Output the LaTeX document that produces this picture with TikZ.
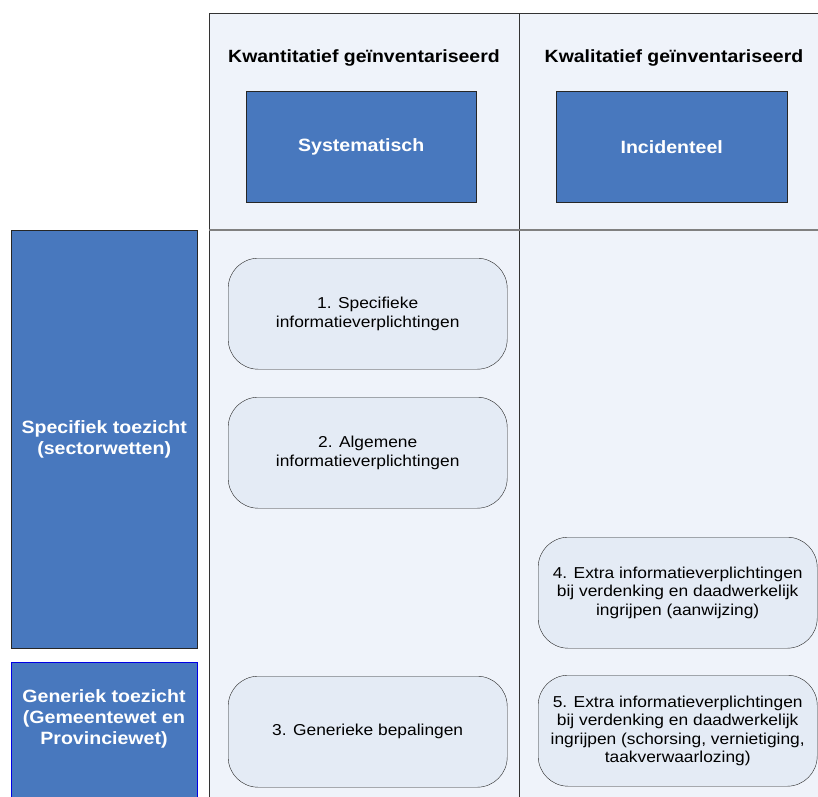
\documentclass[tikz,border=0pt]{standalone}
\usepackage{fontspec}
\setmainfont{Liberation Sans}[FakeStretch=1.1]
\definecolor{bluefill}{HTML}{4878BE}
\definecolor{gridbg}{HTML}{EFF3FA}
\definecolor{roundbg}{HTML}{E4EBF5}
\definecolor{gridline}{HTML}{333333}
\definecolor{hline}{HTML}{808080}
\begin{document}
\begin{tikzpicture}[x=1pt,y=-1pt,
  bluebox/.style={draw=black!85,fill=bluefill,text=white,font=\fontsize{17.8}{21}\selectfont\bfseries,align=center,inner sep=0pt,anchor=north west},
  roundbox/.style={draw=black!85,fill=roundbg,rounded corners=30pt,font=\fontsize{15.8}{18.5}\selectfont,align=center,inner sep=0pt,anchor=north west,minimum width=279pt,minimum height=111pt},
  header/.style={font=\fontsize{17.7}{20}\selectfont\bfseries,inner sep=0pt}]
\useasboundingbox (0,0) rectangle (818,796);
% grid background
\fill[gridbg] (209,13) rectangle (830,800);
\draw[gridline,line width=0.8pt] (830,13) -- (209,13) -- (209,800);
\draw[gridline,line width=0.8pt] (519,13) -- (519,800);
\draw[hline,line width=1.4pt] (209,230) -- (830,230);
% headers
\node[header] (h1) at (364,58) {Kwantitatief geïnventariseerd};
\node[header] (h2) at (674,58) {Kwalitatief geïnventariseerd};
\node[bluebox,minimum width=230pt,minimum height=111pt] (sys) at (246,91) {Systematisch};
\node[bluebox,minimum width=231pt,minimum height=111pt] (inc) at (556,91) {Incidenteel};
% left boxes
\node[bluebox,minimum width=186pt,minimum height=418pt] (spec) at (11,230) {Specifiek toezicht\\(sectorwetten)};
\node[bluebox,draw=blue!90!black,minimum width=186pt,minimum height=150pt,anchor=north west] (gen) at (11,662) {};
\node[font=\fontsize{17.8}{21}\selectfont\bfseries,text=white,align=center,inner sep=0pt] (gentext) at (104,719) {Generiek toezicht\\(Gemeentewet en\\Provinciewet)};
% rounded boxes
\node[roundbox] (b1) at (228,258) {1. Specifieke\\informatieverplichtingen};
\node[roundbox] (b2) at (228,397) {2. Algemene\\informatieverplichtingen};
\node[roundbox] (b3) at (228,676) {3. Generieke bepalingen};
\node[roundbox] (b4) at (538,537) {4. Extra informatieverplichtingen\\bij verdenking en daadwerkelijk\\ingrijpen (aanwijzing)};
\node[roundbox] (b5) at (538,675) {5. Extra informatieverplichtingen\\bij verdenking en daadwerkelijk\\ingrijpen (schorsing, vernietiging,\\taakverwaarlozing)};
\end{tikzpicture}
\end{document}
